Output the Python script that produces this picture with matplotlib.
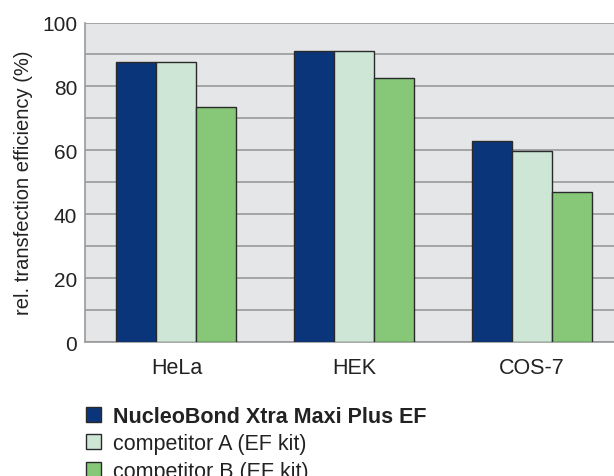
import matplotlib
matplotlib.use('Agg')
import matplotlib.pyplot as plt
import numpy as np
from matplotlib.patches import Patch

# data
cell_lines = ['HeLa', 'HEK', 'COS-7']
series_names = ['NucleoBond Xtra Maxi Plus EF', 'competitor A (EF kit)', 'competitor B (EF kit)']
nucleobond = [87.5, 91.2, 62.8]
competitor_a = [87.5, 91.2, 59.9]
competitor_b = [73.6, 82.7, 47.0]
y_ticks = [0, 20, 40, 60, 80, 100]

colors = ['#0b357b', '#cde6d6', '#86c878']
text_color = '#222222'

plt.rcParams['font.family'] = ['Liberation Sans', 'DejaVu Sans']

fig = plt.figure(figsize=(6.14, 4.77), dpi=100)
ax = fig.add_axes([0.1384, 0.2809, 0.8616, 0.6698])
ax.set_facecolor('#e5e6e8')

x = np.arange(len(cell_lines))
width = 0.225
for i, vals in enumerate([nucleobond, competitor_a, competitor_b]):
    ax.bar(x + (i - 1) * width, vals, width, color=colors[i],
           edgecolor='#2a2a2a', linewidth=1.0, zorder=3)

ax.set_ylim(0, 100)
ax.set_xlim(-0.514, 2.46)
ax.set_yticks(y_ticks)
ax.set_yticks(np.arange(0, 101, 10), minor=True)
ax.grid(axis='y', which='both', color='#9a9a9a', linewidth=1.2, zorder=1)
ax.tick_params(axis='both', which='both', length=0, colors=text_color)
ax.tick_params(axis='y', pad=5.5, labelsize=15)
ax.tick_params(axis='x', pad=11, labelsize=15.5)
ax.set_xticks(x)
ax.set_xticklabels(cell_lines)

for side in ['top', 'right']:
    ax.spines[side].set_visible(False)
ax.spines['left'].set_color('#9a9a9a')
ax.spines['bottom'].set_color('#9a9a9a')
ax.spines['left'].set_linewidth(1.2)
ax.spines['bottom'].set_linewidth(1.2)

fig.text(0.0375, 0.616, 'rel. transfection efficiency (%)', rotation=90,
         ha='center', va='center', fontsize=14.5, color=text_color)

handles = [Patch(facecolor=c, edgecolor='#2a2a2a', linewidth=1.0) for c in colors]
leg = fig.legend(handles, series_names, loc='upper left', bbox_to_anchor=(0.140, 0.147),
                 frameon=False, fontsize=15.5, handlelength=0.68, handleheight=0.68,
                 handletextpad=0.57, labelspacing=0.3, borderaxespad=0, borderpad=0)
leg.get_texts()[0].set_fontweight('bold')
for t in leg.get_texts():
    t.set_color(text_color)

fig.savefig('out.png', dpi=100)
